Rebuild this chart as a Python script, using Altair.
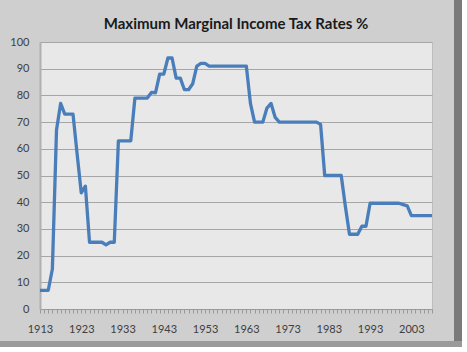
import altair as alt
import pandas as pd

years = list(range(1913, 2009))
rates = [
    7, 7, 7, 15, 67, 77, 73, 73, 73, 58,          # 1913-1922
    43.5, 46, 25, 25, 25, 25, 24, 25, 25, 63,     # 1923-1932
    63, 63, 63, 79, 79, 79, 79, 81.1, 81, 88,     # 1933-1942
    88, 94, 94, 86.45, 86.45, 82.13, 82.13, 84.36, 91, 92,  # 1943-1952
    92, 91, 91, 91, 91, 91, 91, 91, 91, 91,       # 1953-1962
    91, 77, 70, 70, 70, 75.25, 77, 71.75, 70, 70, # 1963-1972
    70, 70, 70, 70, 70, 70, 70, 70, 69.13, 50,    # 1973-1982
    50, 50, 50, 50, 38.5, 28, 28, 28, 31, 31,     # 1983-1992
    39.6, 39.6, 39.6, 39.6, 39.6, 39.6, 39.6, 39.6, 39.1, 38.6,  # 1993-2002
    35, 35, 35, 35, 35, 35,                       # 2003-2008
]
y_ticks = list(range(0, 101, 10))
title_text = "Maximum Marginal Income Tax Rates %"

df = pd.DataFrame({"year": years, "rate": rates})

line = alt.Chart(df).mark_line(color="#4a7ebb", strokeWidth=3.3, strokeJoin="round").encode(
    x=alt.X(
        "year:Q",
        scale=alt.Scale(domain=[1913, 2008], nice=False, zero=False),
        axis=alt.Axis(
            values=years,
            labelExpr="(datum.value - 1913) % 10 == 0 ? datum.value : ''",
            title=None,
            grid=False,
            ticks=True,
            tickSize=4,
            tickColor="#9a9a9a",
            domainColor="#9a9a9a",
            labelOverlap=False,
            labelFlush=False,
            labelBound=False,
            labelPadding=10,
            labelFont="Lato",
            labelFontSize=11,
            labelColor="#404040",
        ),
    ),
    y=alt.Y(
        "rate:Q",
        scale=alt.Scale(domain=[0, 100], nice=False),
        axis=alt.Axis(
            values=y_ticks,
            title=None,
            ticks=False,
            grid=True,
            gridColor="#a6a6a6",
            gridWidth=1,
            domainColor="#b0b0b0",
            domainWidth=2,
            labelPadding=11,
            labelFont="Lato",
            labelFontSize=11,
            labelColor="#404040",
        ),
    ),
)

shadow_r = alt.Chart(df).mark_rect(color="#7a7a7a").encode(
    x=alt.value(414), x2=alt.value(422), y=alt.value(-42), y2=alt.value(305)
)
white_r = alt.Chart(df).mark_rect(color="#ffffff").encode(
    x=alt.value(422), x2=alt.value(427), y=alt.value(-42), y2=alt.value(310)
)
shadow_b = alt.Chart(df).mark_rect(color="#9a9a9a").encode(
    x=alt.value(-40), x2=alt.value(422), y=alt.value(299), y2=alt.value(305)
)
white_b = alt.Chart(df).mark_rect(color="#ffffff").encode(
    x=alt.value(-40), x2=alt.value(427), y=alt.value(305), y2=alt.value(310)
)

chart = alt.layer(shadow_r, shadow_b, white_r, white_b, line).properties(
    width=392,
    height=267,
    autosize=alt.AutoSizeParams(type="none"),
    padding={"left": 40, "top": 42, "right": 35, "bottom": 43},
    background="#cfcfcf",
    title=alt.TitleParams(
        text=title_text,
        font="Lato",
        fontSize=15,
        fontWeight="bold",
        color="#1a1a1a",
        anchor="middle",
        offset=-32,
    ),
).configure_view(
    fill="#e8e8e8",
    stroke="#bdbdbd",
    strokeWidth=1,
)

chart.save("out.html", embed_options={"renderer": "svg", "actions": False})
